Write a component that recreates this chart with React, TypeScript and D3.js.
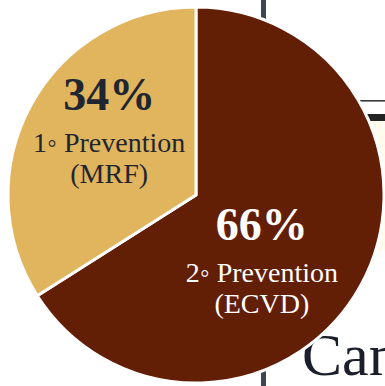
import React from "react";
import * as d3 from "d3";

// Share of patients by prevention setting
const categories = ["2◦ Prevention", "1◦ Prevention"];
const subLabels = ["(ECVD)", "(MRF)"];
const values = [66, 34];
const sliceColors = ["#631e06", "#e0b55d"];
const textColors = ["#ffffff", "#1f2531"];

const W = 385;
const H = 386;
const cx = 196;
const cy = 195;
const R = 188;

// label nudges relative to each slice's label centroid (percent line baseline)
const labelNudge: [number, number][] = [
  [-33, -9],
  [12, -31],
];

const serif = '"Liberation Serif", "Times New Roman", Times, serif';

export default function App() {
  const pie = d3
    .pie<number>()
    .sort(null)
    .value((d) => d);
  const arcs = pie(values);
  const arc = d3.arc<d3.PieArcDatum<number>>().innerRadius(0).outerRadius(R);
  const labelArc = d3
    .arc<d3.PieArcDatum<number>>()
    .innerRadius(R * 0.6)
    .outerRadius(R * 0.6);

  const textStyle = { fontFamily: serif };

  return (
    <svg
      width={W}
      height={H}
      viewBox={`0 0 ${W} ${H}`}
      style={{ position: "absolute", left: 0, top: 0, background: "#ffffff" }}
    >
      {/* slide elements behind the pie */}
      <rect x={360} y={121} width={25} height={130} fill="#fffcee" />
      <rect x={261} y={0} width={5} height={H} fill="#3e4654" />
      <rect x={340} y={100} width={45} height={1.6} fill="#3a3a3a" />
      <rect x={350} y={114} width={35} height={7} fill="#232323" />
      <text x={302} y={375} fontSize={60} fill="#1a1f2b" style={textStyle}>
        Can
      </text>

      <g transform={`translate(${cx},${cy})`}>
        {arcs.map((a, i) => (
          <path
            key={i}
            d={arc(a) ?? ""}
            fill={sliceColors[i]}
            stroke="#ffffff"
            strokeWidth={3}
            strokeLinejoin="round"
          />
        ))}
        {arcs.map((a, i) => {
          const [lx, ly] = labelArc.centroid(a);
          const x = lx + labelNudge[i][0];
          const y = ly + labelNudge[i][1];
          return (
            <g key={`l${i}`}>
              <text
                x={x}
                y={y}
                fontSize={46}
                fontWeight="bold"
                textAnchor="middle"
                fill={textColors[i]}
                style={textStyle}
              >
                {`${values[i]}%`}
              </text>
              <text
                x={x}
                y={y + 42}
                fontSize={28}
                textAnchor="middle"
                fill={textColors[i]}
                style={textStyle}
              >
                {categories[i]}
              </text>
              <text
                x={x}
                y={y + 73}
                fontSize={28}
                textAnchor="middle"
                fill={textColors[i]}
                style={textStyle}
              >
                {subLabels[i]}
              </text>
            </g>
          );
        })}
      </g>
    </svg>
  );
}
